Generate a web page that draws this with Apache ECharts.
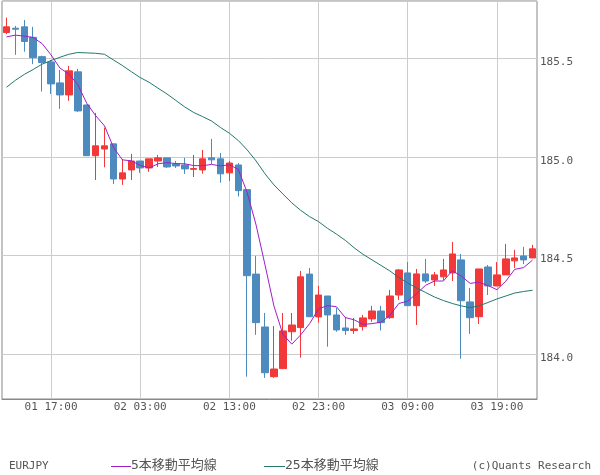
<!DOCTYPE html>
<html>
<head>
<meta charset="utf-8">
<script src="https://cdn.jsdelivr.net/npm/echarts@6/dist/echarts.min.js"></script>
<style>
  html, body { margin: 0; padding: 0; background: #fff; }
  #chart { width: 600px; height: 475px; }
</style>
</head>
<body>
<div id="chart"></div>
<script>
'use strict';

// 時間足 (01 12:00 〜 03 23:00)
const times = [
    '01 12:00', '01 13:00', '01 14:00', '01 15:00', '01 16:00', '01 17:00', '01 18:00', '01 19:00',
    '01 20:00', '01 21:00', '01 22:00', '01 23:00',
    '02 00:00', '02 01:00', '02 02:00', '02 03:00', '02 04:00', '02 05:00', '02 06:00', '02 07:00',
    '02 08:00', '02 09:00', '02 10:00', '02 11:00', '02 12:00', '02 13:00', '02 14:00', '02 15:00',
    '02 16:00', '02 17:00', '02 18:00', '02 19:00', '02 20:00', '02 21:00', '02 22:00', '02 23:00',
    '03 00:00', '03 01:00', '03 02:00', '03 03:00', '03 04:00', '03 05:00', '03 06:00', '03 07:00',
    '03 08:00', '03 09:00', '03 10:00', '03 11:00', '03 12:00', '03 13:00', '03 14:00', '03 15:00',
    '03 16:00', '03 17:00', '03 18:00', '03 19:00', '03 20:00', '03 21:00', '03 22:00', '03 23:00'
];

const openPrices = [
    185.630, 185.652, 185.659, 185.606, 185.508, 185.481, 185.375, 185.314, 185.431, 185.263,
    185.006, 185.040, 185.066, 184.888, 184.934, 184.979, 184.944, 184.979, 184.995, 184.964,
    184.959, 184.937, 184.934, 184.995, 184.990, 184.919, 184.959, 184.834, 184.406, 184.138,
    183.886, 183.927, 184.114, 184.135, 184.406, 184.189, 184.295, 184.199, 184.133, 184.120,
    184.140, 184.179, 184.219, 184.185, 184.300, 184.412, 184.246, 184.407, 184.376, 184.392,
    184.412, 184.478, 184.265, 184.190, 184.442, 184.346, 184.402, 184.473, 184.498, 184.488
];
const closePrices = [
    185.659, 185.647, 185.585, 185.503, 185.478, 185.370, 185.314, 185.436, 185.233, 185.006,
    185.056, 185.056, 184.888, 184.919, 184.979, 184.944, 184.990, 184.995, 184.949, 184.954,
    184.939, 184.941, 184.990, 184.985, 184.914, 184.969, 184.829, 184.398, 184.160, 183.906,
    183.925, 184.118, 184.148, 184.392, 184.190, 184.300, 184.199, 184.123, 184.120, 184.128,
    184.184, 184.219, 184.160, 184.295, 184.427, 184.246, 184.407, 184.371, 184.402, 184.427,
    184.508, 184.271, 184.185, 184.432, 184.346, 184.402, 184.483, 184.488, 184.478, 184.534
];
const highPrices = [
    185.706, 185.664, 185.694, 185.659, 185.513, 185.491, 185.441, 185.461, 185.446, 185.265,
    185.223, 185.148, 185.066, 184.990, 185.015, 184.979, 184.990, 185.010, 184.995, 184.979,
    184.995, 185.010, 185.035, 185.091, 185.020, 184.979, 184.969, 184.834, 184.498, 184.209,
    184.143, 184.209, 184.209, 184.422, 184.437, 184.346, 184.295, 184.235, 184.189, 184.184,
    184.199, 184.245, 184.245, 184.326, 184.432, 184.467, 184.432, 184.483, 184.417, 184.483,
    184.569, 184.508, 184.336, 184.432, 184.452, 184.467, 184.559, 184.529, 184.544, 184.554
];
const lowPrices = [
    185.622, 185.517, 185.533, 185.470, 185.331, 185.319, 185.243, 185.284, 185.228, 185.004,
    184.883, 184.947, 184.862, 184.858, 184.883, 184.919, 184.924, 184.949, 184.944, 184.944,
    184.914, 184.898, 184.915, 184.964, 184.869, 184.878, 184.799, 183.886, 184.098, 183.880,
    183.880, 183.925, 184.069, 183.983, 184.190, 184.160, 184.038, 184.114, 184.098, 184.103,
    184.120, 184.164, 184.120, 184.179, 184.275, 184.246, 184.148, 184.361, 184.346, 184.376,
    184.371, 183.977, 184.103, 184.153, 184.300, 184.346, 184.402, 184.437, 184.457, 184.488
];

// 移動平均線 (チャートから読み取り)
const ma5 = [
    185.608, 185.617, 185.612, 185.605, 185.574, 185.517, 185.450, 185.420, 185.366, 185.272,
    185.209, 185.157, 185.048, 184.985, 184.980, 184.957, 184.944, 184.965, 184.971, 184.966,
    184.965, 184.956, 184.955, 184.962, 184.954, 184.960, 184.937, 184.819, 184.654, 184.452,
    184.244, 184.101, 184.051, 184.098, 184.155, 184.230, 184.246, 184.241, 184.186, 184.174,
    184.151, 184.155, 184.162, 184.197, 184.257, 184.269, 184.307, 184.349, 184.371, 184.371,
    184.423, 184.396, 184.359, 184.365, 184.348, 184.327, 184.370, 184.430, 184.439, 184.477
];
const ma25 = [
    185.353, 185.388, 185.418, 185.443, 185.470, 185.488, 185.505, 185.520, 185.529, 185.527,
    185.525, 185.520, 185.491, 185.463, 185.432, 185.402, 185.378, 185.348, 185.319, 185.286,
    185.253, 185.225, 185.204, 185.182, 185.149, 185.120, 185.083, 185.035, 184.979, 184.914,
    184.858, 184.812, 184.767, 184.729, 184.697, 184.672, 184.638, 184.609, 184.577, 184.539,
    184.506, 184.478, 184.450, 184.422, 184.389, 184.361, 184.336, 184.313, 184.290, 184.272,
    184.257, 184.245, 184.236, 184.245, 184.262, 184.280, 184.295, 184.310, 184.318, 184.324
];

const labelFont = '"DejaVu Sans Mono", "Liberation Mono", monospace';
const upColor = '#f23838';
const downColor = '#4d8bbf';
const ma5Color = '#a01ec8';
const ma25Color = '#23786d';

function makeCandleChart() {
    let candles = [];
    for (let i = 0; i < times.length; i++) {
        // [open, close, low, high]
        candles.push([openPrices[i], closePrices[i], lowPrices[i], highPrices[i]]);
    }

    // 10本ごとに目盛り (17:00, 03:00, 13:00, 23:00 ...)
    let showEvery10 = function (index) {
        return (index - 5) % 10 === 0;
    };

    let myChart = echarts.init(document.getElementById('chart'), null, {renderer: 'canvas'});
    myChart.setOption({
        animation: false,
        backgroundColor: '#fff',
        grid: {
            left: 2,
            right: 63,
            top: 1,
            bottom: 76,
            show: true,
            borderColor: '#888',
            borderWidth: 1
        },
        xAxis: {
            type: 'category',
            data: times,
            boundaryGap: true,
            axisLine: {show: true, lineStyle: {color: '#888'}},
            axisTick: {show: false},
            axisLabel: {
                interval: showEvery10,
                color: '#555',
                fontFamily: labelFont,
                fontSize: 11,
                margin: 3
            },
            splitLine: {
                show: true,
                interval: showEvery10,
                alignWithLabel: true,
                lineStyle: {color: '#cccccc', width: 1}
            }
        },
        yAxis: {
            type: 'value',
            position: 'right',
            min: 183.773,
            max: 185.790,
            scale: true,
            splitNumber: 4,
            axisLine: {show: false},
            axisTick: {show: false},
            axisLabel: {
                color: '#555',
                fontFamily: labelFont,
                fontSize: 11,
                lineHeight: 8,
                margin: 3,
                verticalAlign: 'top',
                formatter: function (val) {
                    let r = Math.round(val * 2) / 2;
                    if (Math.abs(r - val) > 0.001) {
                        return '';
                    }
                    return r.toFixed(1);
                }
            },
            splitLine: {
                show: true,
                lineStyle: {color: '#cccccc', width: 1}
            }
        },
        series: [
            {
                name: 'EURJPY',
                type: 'candlestick',
                data: candles,
                barWidth: 7,
                itemStyle: {
                    color: upColor,
                    color0: downColor,
                    borderColor: upColor,
                    borderColor0: downColor,
                    borderWidth: 1
                }
            },
            {
                name: '5本移動平均線',
                type: 'line',
                data: ma5,
                symbol: 'none',
                lineStyle: {color: ma5Color, width: 1}
            },
            {
                name: '25本移動平均線',
                type: 'line',
                data: ma25,
                symbol: 'none',
                lineStyle: {color: ma25Color, width: 1}
            }
        ],
        // 下部の凡例
        graphic: [
            {
                type: 'text', x: 9, y: 466,
                style: {text: 'EURJPY', font: '11px ' + labelFont, fill: '#555', verticalAlign: 'middle'}
            },
            {
                type: 'line', shape: {x1: 111, y1: 466.5, x2: 131, y2: 466.5},
                style: {stroke: ma5Color, lineWidth: 1}
            },
            {
                type: 'text', x: 131, y: 466,
                style: {text: '5本移動平均線', font: '13px "DejaVu Sans Mono", "Noto Sans CJK JP"', fill: '#555', verticalAlign: 'middle'}
            },
            {
                type: 'line', shape: {x1: 264, y1: 466.5, x2: 285, y2: 466.5},
                style: {stroke: ma25Color, lineWidth: 1}
            },
            {
                type: 'text', x: 285, y: 466,
                style: {text: '25本移動平均線', font: '13px "DejaVu Sans Mono", "Noto Sans CJK JP"', fill: '#555', verticalAlign: 'middle'}
            },
            {
                type: 'text', x: 591, y: 466,
                style: {text: '(c)Quants Research', font: '11px ' + labelFont, fill: '#555', align: 'right', verticalAlign: 'middle'}
            }
        ]
    });
}

makeCandleChart();
</script>
</body>
</html>
